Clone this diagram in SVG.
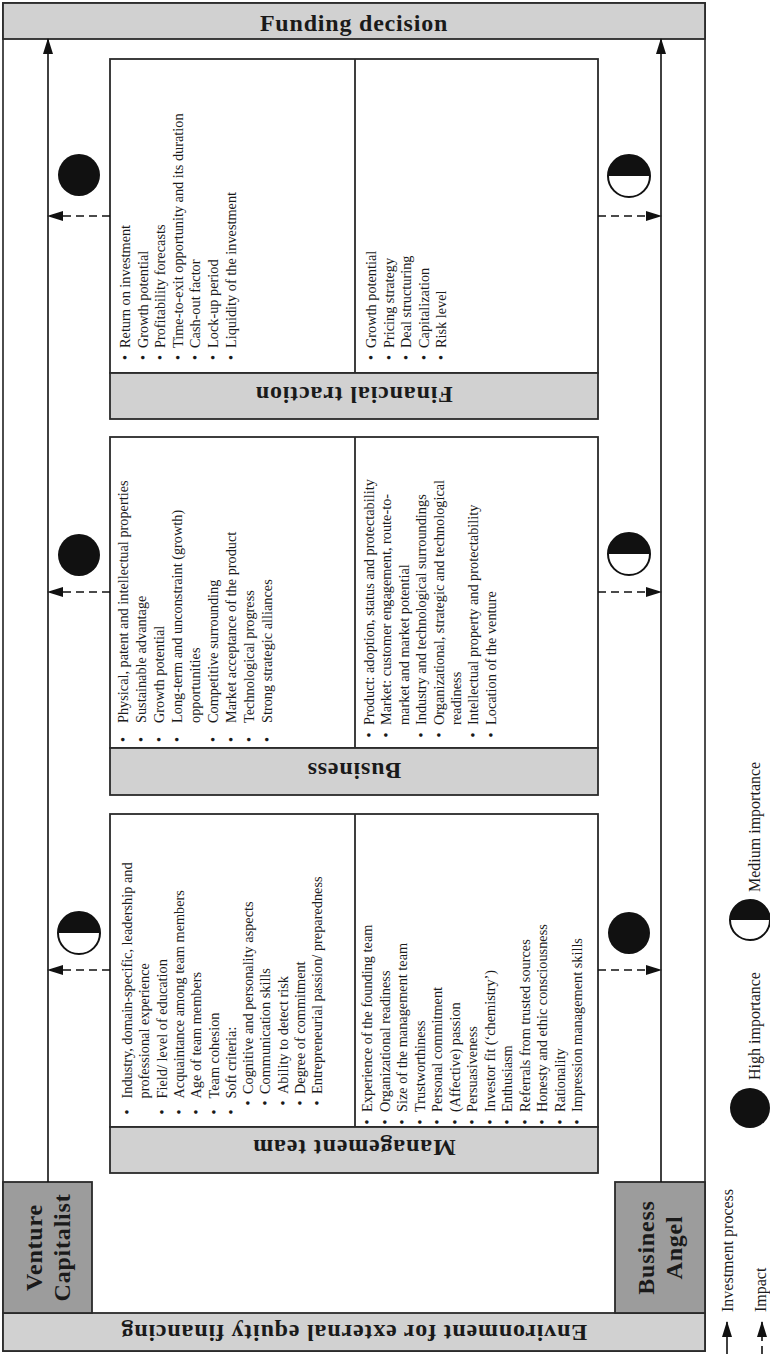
<svg xmlns="http://www.w3.org/2000/svg" width="770" height="1355" viewBox="0 0 770 1355">
<defs>
<style>
.frame{fill:#fff;stroke:#3a3a3a;stroke-width:1.8}
.band{fill:#d1d1d1;stroke:#2a2a2a;stroke-width:1.8}
.actor{fill:#9c9c9c;stroke:#2a2a2a;stroke-width:1.8}
.box{fill:#fff;stroke:#2a2a2a;stroke-width:1.8}
.h{font-family:"Liberation Serif","Times New Roman",serif;font-weight:bold;font-size:24px;letter-spacing:0.8px;fill:#1a1a1a}
.b{font-family:"Liberation Serif","Times New Roman",serif;font-size:14.3px;fill:#1a1a1a}
.lg{font-family:"Liberation Serif","Times New Roman",serif;font-size:16px;fill:#1a1a1a}
.proc{stroke:#111;stroke-width:1.6;fill:none;marker-end:url(#ah)}
.imp{stroke:#111;stroke-width:1.6;fill:none;stroke-dasharray:8 5;marker-end:url(#ah)}
.hi{fill:#111}
</style>
<marker id="ah" markerWidth="16" markerHeight="10" refX="15" refY="5" orient="auto" markerUnits="userSpaceOnUse"><path d="M0,0 L16,5 L0,10 z" fill="#111"/></marker>
<g id="med"><circle r="21" fill="#fff"/><path d="M-21,0 A21,21 0 0 1 21,0 Z" fill="#111"/><circle r="21" fill="none" stroke="#111" stroke-width="2"/></g>
<g id="medS"><circle r="20" fill="#fff"/><path d="M-20,0 A20,20 0 0 1 20,0 Z" fill="#111"/><circle r="20" fill="none" stroke="#111" stroke-width="2"/></g>
</defs>

<rect class="frame" x="3" y="3" width="702" height="1348"/>

<g id="funding-decision">
<rect class="band" x="3" y="3" width="702" height="36"/>
<text class="h" x="354" y="31" text-anchor="middle">Funding decision</text>
</g>

<g id="environment">
<rect class="band" x="3" y="1313" width="702" height="38"/>
<text class="h" x="354" y="1339" text-anchor="middle" transform="rotate(180 354 1332)">Environment for external equity financing</text>
</g>

<g id="venture-capitalist">
<rect class="actor" x="3" y="1182" width="89" height="131"/>
<text class="h" text-anchor="middle" transform="translate(42,1247.5) rotate(-90)">Venture</text>
<text class="h" text-anchor="middle" transform="translate(70,1247.5) rotate(-90)">Capitalist</text>
</g>

<g id="business-angel">
<rect class="actor" x="615" y="1182" width="90" height="131"/>
<text class="h" text-anchor="middle" transform="translate(654,1247.5) rotate(-90)">Business</text>
<text class="h" text-anchor="middle" transform="translate(682,1247.5) rotate(-90)">Angel</text>
</g>

<g id="financial-traction">
<rect class="box" x="110" y="59" width="488" height="314"/>
<line x1="355" y1="59" x2="355" y2="373" stroke="#2a2a2a" stroke-width="1.8"/>
<rect class="band" x="110" y="373" width="488" height="46"/>
<text class="h" x="354" y="405" text-anchor="middle" transform="rotate(180 354 396)">Financial traction</text>
<text class="b" transform="translate(110,373) rotate(-90)">
<tspan x="13" y="20">•</tspan><tspan x="25" y="20">Return on investment</tspan>
<tspan x="13" y="37.6">•</tspan><tspan x="25" y="37.6">Growth potential</tspan>
<tspan x="13" y="55.2">•</tspan><tspan x="25" y="55.2">Profitability forecasts</tspan>
<tspan x="13" y="72.8">•</tspan><tspan x="25" y="72.8">Time-to-exit opportunity and its duration</tspan>
<tspan x="13" y="90.4">•</tspan><tspan x="25" y="90.4">Cash-out factor</tspan>
<tspan x="13" y="108">•</tspan><tspan x="25" y="108">Lock-up period</tspan>
<tspan x="13" y="125.6">•</tspan><tspan x="25" y="125.6">Liquidity of the investment</tspan>
</text>
<text class="b" transform="translate(355,373) rotate(-90)">
<tspan x="13" y="21">•</tspan><tspan x="25" y="21">Growth potential</tspan>
<tspan x="13" y="38.6">•</tspan><tspan x="25" y="38.6">Pricing strategy</tspan>
<tspan x="13" y="56.2">•</tspan><tspan x="25" y="56.2">Deal structuring</tspan>
<tspan x="13" y="73.8">•</tspan><tspan x="25" y="73.8">Capitalization</tspan>
<tspan x="13" y="91.4">•</tspan><tspan x="25" y="91.4">Risk level</tspan>
</text>
</g>

<g id="business">
<rect class="box" x="110" y="437" width="488" height="311"/>
<line x1="355" y1="437" x2="355" y2="748" stroke="#2a2a2a" stroke-width="1.8"/>
<rect class="band" x="110" y="748" width="488" height="47"/>
<text class="h" x="354" y="780" text-anchor="middle" transform="rotate(180 354 771.5)">Business</text>
<text class="b" transform="translate(110,748) rotate(-90)">
<tspan x="6" y="18">•</tspan><tspan x="25" y="18">Physical, patent and intellectual properties</tspan>
<tspan x="6" y="36">•</tspan><tspan x="25" y="36">Sustainable advantage</tspan>
<tspan x="6" y="54">•</tspan><tspan x="25" y="54">Growth potential</tspan>
<tspan x="6" y="72">•</tspan><tspan x="25" y="72">Long-term and unconstraint (growth)</tspan>
<tspan x="25" y="90">opportunities</tspan>
<tspan x="6" y="108">•</tspan><tspan x="25" y="108">Competitive surrounding</tspan>
<tspan x="6" y="126">•</tspan><tspan x="25" y="126">Market acceptance of the product</tspan>
<tspan x="6" y="144">•</tspan><tspan x="25" y="144">Technological progress</tspan>
<tspan x="6" y="162">•</tspan><tspan x="25" y="162">Strong strategic alliances</tspan>
</text>
<text class="b" transform="translate(355,748) rotate(-90)">
<tspan x="10.5" y="19">•</tspan><tspan x="23" y="19">Product: adoption, status and protectability</tspan>
<tspan x="10.5" y="36.4">•</tspan><tspan x="23" y="36.4">Market: customer engagement, route-to-</tspan>
<tspan x="23" y="53.8">market and market potential</tspan>
<tspan x="10.5" y="71.2">•</tspan><tspan x="23" y="71.2">Industry and technological surroundings</tspan>
<tspan x="10.5" y="88.6">•</tspan><tspan x="23" y="88.6">Organizational, strategic and technological</tspan>
<tspan x="23" y="106">readiness</tspan>
<tspan x="10.5" y="123.4">•</tspan><tspan x="23" y="123.4">Intellectual property and protectability</tspan>
<tspan x="10.5" y="140.8">•</tspan><tspan x="23" y="140.8">Location of the venture</tspan>
</text>
</g>

<g id="management-team">
<rect class="box" x="110" y="814" width="488" height="313"/>
<line x1="355" y1="814" x2="355" y2="1127" stroke="#2a2a2a" stroke-width="1.8"/>
<rect class="band" x="110" y="1127" width="488" height="46"/>
<text class="h" x="354" y="1160" text-anchor="middle" transform="rotate(180 354 1150)">Management team</text>
<text class="b" transform="translate(110,1127) rotate(-90)">
<tspan x="12.5" y="22">•</tspan><tspan x="28.5" y="22">Industry, domain-specific, leadership and</tspan>
<tspan x="28.5" y="39.3">professional experience</tspan>
<tspan x="12.5" y="56.6">•</tspan><tspan x="28.5" y="56.6">Field/ level of education</tspan>
<tspan x="12.5" y="73.9">•</tspan><tspan x="28.5" y="73.9">Acquaintance among team members</tspan>
<tspan x="12.5" y="91.2">•</tspan><tspan x="28.5" y="91.2">Age of team members</tspan>
<tspan x="12.5" y="108.5">•</tspan><tspan x="28.5" y="108.5">Team cohesion</tspan>
<tspan x="12.5" y="125.8">•</tspan><tspan x="28.5" y="125.8">Soft criteria:</tspan>
<tspan x="21.5" y="143.1">•</tspan><tspan x="33" y="143.1">Cognitive and personality aspects</tspan>
<tspan x="21.5" y="160.4">•</tspan><tspan x="33" y="160.4">Communication skills</tspan>
<tspan x="21.5" y="177.7">•</tspan><tspan x="33" y="177.7">Ability to detect risk</tspan>
<tspan x="21.5" y="195">•</tspan><tspan x="33" y="195">Degree of commitment</tspan>
<tspan x="21.5" y="212.3">•</tspan><tspan x="33" y="212.3">Entrepreneurial passion/ preparedness</tspan>
</text>
<text class="b" transform="translate(355,1127) rotate(-90)">
<tspan x="2.5" y="17">•</tspan><tspan x="15" y="17">Experience of the founding team</tspan>
<tspan x="2.5" y="34.5">•</tspan><tspan x="15" y="34.5">Organizational readiness</tspan>
<tspan x="2.5" y="52">•</tspan><tspan x="15" y="52">Size of the management team</tspan>
<tspan x="2.5" y="69.5">•</tspan><tspan x="15" y="69.5">Trustworthiness</tspan>
<tspan x="2.5" y="87">•</tspan><tspan x="15" y="87">Personal commitment</tspan>
<tspan x="2.5" y="104.5">•</tspan><tspan x="15" y="104.5">(Affective) passion</tspan>
<tspan x="2.5" y="122">•</tspan><tspan x="15" y="122">Persuasiveness</tspan>
<tspan x="2.5" y="139.5">•</tspan><tspan x="15" y="139.5">Investor fit (‘chemistry’)</tspan>
<tspan x="2.5" y="157">•</tspan><tspan x="15" y="157">Enthusiasm</tspan>
<tspan x="2.5" y="174.5">•</tspan><tspan x="15" y="174.5">Referrals from trusted sources</tspan>
<tspan x="2.5" y="192">•</tspan><tspan x="15" y="192">Honesty and ethic consciousness</tspan>
<tspan x="2.5" y="209.5">•</tspan><tspan x="15" y="209.5">Rationality</tspan>
<tspan x="2.5" y="227">•</tspan><tspan x="15" y="227">Impression management skills</tspan>
</text>
</g>

<g id="connectors">
<path class="proc" d="M48,1182 L48,39"/>
<path class="proc" d="M661,1182 L661,39"/>
<path class="imp" d="M110,216 L48,216"/>
<path class="imp" d="M598,216 L661,216"/>
<path class="imp" d="M110,592 L48,592"/>
<path class="imp" d="M598,592 L661,592"/>
<path class="imp" d="M110,970 L48,970"/>
<path class="imp" d="M598,970 L661,970"/>
</g>

<g id="importance">
<circle class="hi" cx="79" cy="175" r="21"/>
<use href="#med" x="629" y="176"/>
<circle class="hi" cx="79" cy="555" r="21"/>
<use href="#med" x="629" y="554"/>
<use href="#med" x="79" y="933"/>
<circle class="hi" cx="629" cy="933" r="21"/>
</g>

<g id="legend">
<path class="proc" d="M727,1354 L727,1322"/>
<text class="lg" transform="translate(733,1312) rotate(-90)">Investment process</text>
<path class="imp" d="M762,1354 L762,1322"/>
<text class="lg" transform="translate(766,1312) rotate(-90)">Impact</text>
<circle class="hi" cx="750" cy="1108" r="20"/>
<text class="lg" transform="translate(760,1080) rotate(-90)">High importance</text>
<use href="#medS" x="750" y="920"/>
<text class="lg" transform="translate(760,892) rotate(-90)">Medium importance</text>
</g>
</svg>
